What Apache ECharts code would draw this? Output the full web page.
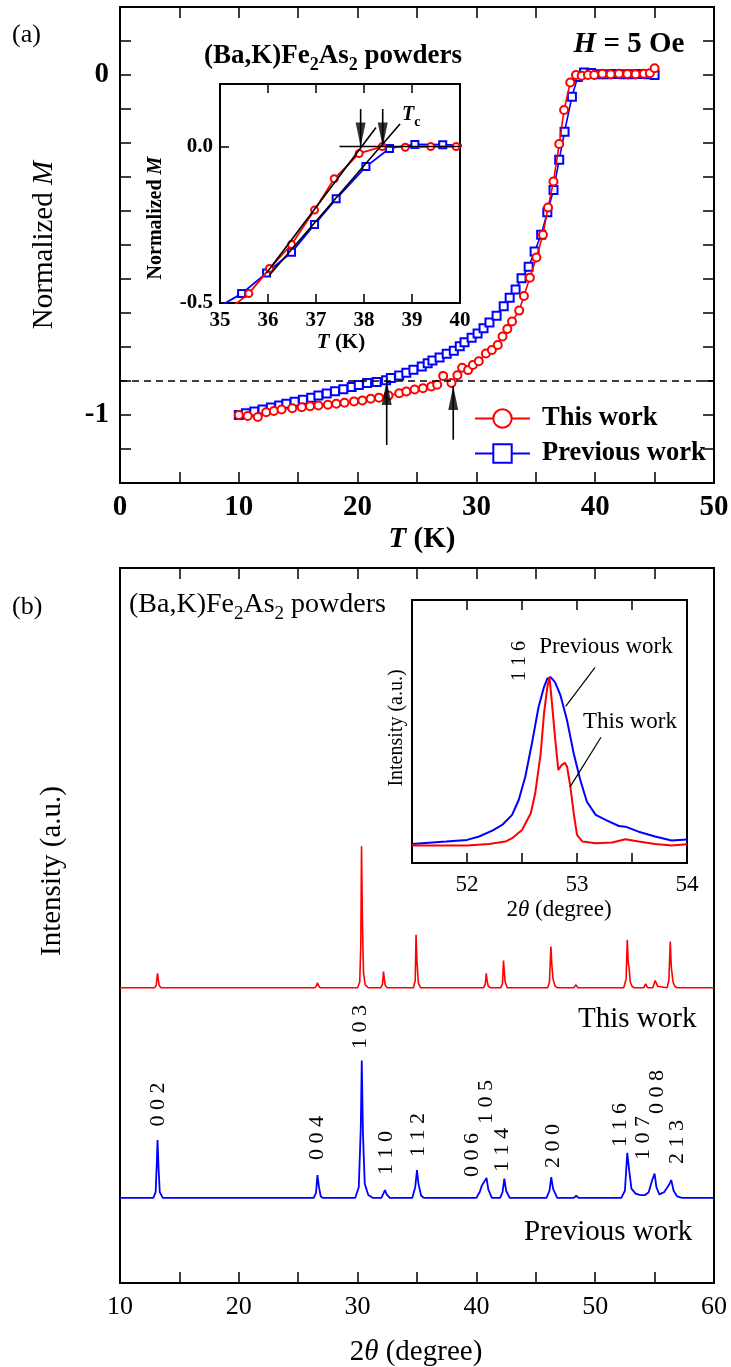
<!DOCTYPE html>
<html><head><meta charset="utf-8">
<script src="https://cdn.jsdelivr.net/npm/echarts@6/dist/echarts.min.js"></script>
<style>html,body{margin:0;padding:0;background:#fff}#c{width:731px;height:1367px}</style>
</head><body><div id="c"></div>
<script>
// ---------------- Panel (a): normalized M vs T ----------------
const redMT = [[10.0,-1.0],[10.75,-1.003],[11.6,-1.006],[12.3,-0.992],[12.95,-0.988],[13.6,-0.984],[14.5,-0.98],[15.3,-0.977],[16.0,-0.974],[16.7,-0.972],[17.5,-0.97],[18.2,-0.967],[18.9,-0.964],[19.7,-0.96],[20.4,-0.957],[21.1,-0.952],[21.8,-0.949],[22.6,-0.943],[23.5,-0.936],[24.1,-0.931],[24.8,-0.925],[25.5,-0.921],[26.2,-0.916],[26.7,-0.911],[27.2,-0.885],[27.9,-0.906],[28.4,-0.883],[28.8,-0.861],[29.3,-0.868],[29.7,-0.853],[30.2,-0.842],[30.8,-0.819],[31.3,-0.809],[31.8,-0.794],[32.2,-0.769],[32.6,-0.747],[33.0,-0.725],[33.6,-0.693],[34.0,-0.65],[34.5,-0.596],[35.05,-0.537],[35.6,-0.47],[36.03,-0.39],[36.49,-0.313],[36.97,-0.203],[37.38,-0.103],[37.9,-0.022],[38.38,0.0],[38.86,-0.002],[39.39,0.0],[39.92,0.0],[40.6,0.004],[41.3,0.002],[42.0,0.004],[42.7,0.003],[43.4,0.002],[44.1,0.004],[44.6,0.005],[45.0,0.02]];
const blueMT = [[10.0,-1.0],[10.6,-0.995],[11.3,-0.99],[12.0,-0.984],[12.7,-0.978],[13.4,-0.972],[14.0,-0.967],[14.7,-0.961],[15.4,-0.955],[16.1,-0.949],[16.7,-0.943],[17.4,-0.937],[18.1,-0.93],[18.8,-0.924],[19.5,-0.918],[20.1,-0.912],[20.8,-0.906],[21.6,-0.903],[22.4,-0.898],[22.8,-0.891],[23.5,-0.884],[24.1,-0.876],[24.7,-0.867],[25.4,-0.857],[25.9,-0.848],[26.3,-0.84],[26.9,-0.831],[27.5,-0.82],[28.1,-0.811],[28.6,-0.798],[29.0,-0.786],[29.6,-0.773],[30.1,-0.76],[30.6,-0.745],[31.1,-0.728],[31.7,-0.708],[32.3,-0.68],[32.8,-0.655],[33.3,-0.631],[33.8,-0.598],[34.4,-0.564],[34.9,-0.519],[35.45,-0.47],[35.97,-0.404],[36.49,-0.338],[36.97,-0.249],[37.42,-0.167],[38.04,-0.064],[38.53,-0.006],[39.06,0.007],[39.64,0.006],[40.3,0.002],[41.0,0.002],[41.7,0.003],[42.4,0.002],[43.1,0.002],[43.8,0.003],[44.5,0.002],[45.0,0.0]];
const tTicks = [0, 10, 20, 30, 40, 50];
const mTickLabels = {'0': '0', '-1': '-1'};
const dashedLevel = -0.9;
// arrows in main panel: [T, tail M, tip M]
const mainArrows = [[22.45, -1.088, -0.9], [28.05, -1.073, -0.915]];
// inset (a): onset construction
const insetFitLines = [[[35.97, -0.404], [38.25, 0.061]], [[36.04, -0.409], [38.75, 0.072]]];
const insetBaseLine = [[37.49, 0.0], [40.0, 0.0]];
const insetArrows = [[37.93, 0.12, 0.0], [38.39, 0.12, 0.0]];
const insetTTicks = [35, 36, 37, 38, 39, 40];
const insetMTicks = ['-0.5', '0.0'];

// ---------------- Panel (b): XRD ----------------
const redXRD = [[10,0],[12.9,0],[13.05,0.3],[13.12,1.4],[13.16,2.0],[13.22,1.2],[13.3,0.3],[13.45,0],
 [26.4,0],[26.55,0.3],[26.62,0.7],[26.7,0.3],[26.85,0],
 [30.0,0],[30.18,0.8],[30.27,6],[30.33,19.8],[30.4,10],[30.45,5.5],[30.5,2],[30.65,0.4],[30.9,0],
 [31.95,0],[32.1,0.5],[32.18,2.25],[32.25,1.2],[32.33,0.3],[32.5,0],
 [34.7,0],[34.85,1],[34.92,7.4],[34.99,4],[35.05,2.3],[35.12,0.6],[35.3,0],
 [40.6,0],[40.75,0.5],[40.83,2.0],[40.9,1.0],[41.0,0.2],[41.2,0],
 [42.05,0],[42.2,0.6],[42.28,3.8],[42.35,2.2],[42.42,0.8],[42.6,0],
 [46.0,0],[46.15,0.8],[46.27,5.75],[46.35,3.2],[46.45,1.2],[46.6,0.3],[46.8,0],
 [48.2,0],[48.38,0.4],[48.55,0],
 [52.4,0],[52.6,1.2],[52.7,6.7],[52.78,3.5],[52.85,2.8],[52.95,0.8],[53.1,0.2],[53.3,0],
 [54.1,0],[54.25,0.55],[54.4,0],
 [54.85,0],[55.05,1.0],[55.25,0.2],
 [56.05,0],[56.2,1],[56.32,6.45],[56.4,3],[56.47,2.8],[56.55,0.8],[56.7,0.2],[56.9,0],
 [60,0]];
const blueXRD = [[10,0],[12.8,0],[13.0,0.8],[13.1,5],[13.16,8.1],[13.25,4],[13.35,0.8],[13.6,0],
 [26.3,0],[26.5,0.7],[26.62,3.2],[26.75,1.5],[26.9,0.2],[27.1,0],
 [29.8,0],[30.1,1.5],[30.27,10],[30.35,19.2],[30.45,9],[30.6,2],[30.9,0.4],[31.3,0],
 [32.0,0],[32.2,0.7],[32.3,1.1],[32.45,0.5],[32.7,0],
 [34.6,0],[34.85,1.5],[35.0,3.9],[35.12,2],[35.35,0.3],[35.6,0],
 [40.0,0],[40.3,0.9],[40.45,1.7],[40.6,1.6],[40.85,2.8],[41.0,1.2],[41.3,0],
 [42.0,0],[42.2,0.8],[42.35,2.7],[42.5,1],[42.8,0],
 [45.9,0],[46.15,1],[46.3,2.9],[46.45,1.3],[46.8,0],
 [48.2,0],[48.4,0.3],[48.6,0],
 [52.2,0],[52.5,1],[52.7,6.3],[52.85,4],[53.05,1.3],[53.4,0.6],[53.8,0.4],[54.2,0.4],[54.5,0.8],[54.8,2.5],[55.0,3.4],[55.15,1.5],[55.4,0.5],[55.8,0.8],[56.2,1.8],[56.4,2.5],[56.6,1],[56.9,0.2],[57.3,0],
 [60,0]];
const redXRDOffset = 41.3;   // vertical stacking of the two patterns (a.u.)
const blueXRDOffset = 11.9;
const peakLabels = ['0 0 2','0 0 4','1 0 3','1 1 0','1 1 2','0 0 6','1 0 5','1 1 4','2 0 0','1 1 6','1 0 7','0 0 8','2 1 3'];
const peakLabelTheta = [13.24, 26.58, 30.20, 32.43, 35.08, 39.69, 40.85, 42.15, 46.45, 52.09, 54.02, 55.20, 56.89];
const peakLabelLevel = [24.97, 20.28, 35.80, 18.18, 20.70, 17.90, 25.31, 18.60, 19.16, 22.10, 20.28, 26.71, 19.72];
const thetaTicks = [10, 20, 30, 40, 50, 60];
// inset (b): 116 peak
const redInset = [[51.5,-0.016],[52.0,-0.016],[52.2,-0.006],[52.35,0.008],[52.41,0.028],[52.5,0.077],[52.58,0.177],[52.62,0.296],[52.67,0.534],[52.7,0.772],[52.73,0.93],[52.75,0.99],[52.77,0.851],[52.8,0.633],[52.83,0.435],[52.86,0.464],[52.89,0.478],[52.91,0.454],[52.94,0.335],[52.97,0.177],[53.0,0.048],[53.05,0.008],[53.17,-0.002],[53.32,0.002],[53.44,0.022],[53.56,0.008],[53.71,-0.006],[53.86,-0.016],[54.0,-0.008]];
const blueInset = [[51.5,-0.006],[51.81,0.008],[52.0,0.018],[52.11,0.038],[52.23,0.073],[52.32,0.107],[52.41,0.167],[52.47,0.256],[52.53,0.395],[52.59,0.593],[52.65,0.81],[52.7,0.93],[52.73,0.98],[52.76,0.99],[52.8,0.96],[52.85,0.88],[52.91,0.73],[52.97,0.534],[53.03,0.375],[53.09,0.246],[53.17,0.167],[53.26,0.137],[53.38,0.101],[53.44,0.097],[53.56,0.067],[53.71,0.038],[53.86,0.014],[54.0,0.02]];
const insetLeaders = [[[53.164, 1.048], [52.897, 0.815]], [[53.218, 0.631], [52.936, 0.333]]];
const insetThetaTicks = [52, 53, 54];

// ---------------- chart ----------------
const F = '"Liberation Serif","Times New Roman",serif';
const K = '#000', RED = '#ff0000', BLUE = '#0000ff';
const chart = echarts.init(document.getElementById('c'), null, {renderer: 'canvas', width: 731, height: 1367});

function gridBox(left, top, width, height, bg) {
  return {left, top, width, height, show: true, borderColor: K, borderWidth: 2,
    backgroundColor: bg, containLabel: false, outerBoundsMode: 'none'};
}
function ax(o) {
  return Object.assign({
    type: 'value', axisLine: {show: false, onZero: false}, splitLine: {show: false},
    axisTick: {show: true, inside: true, length: o.tickLen || 11, lineStyle: {color: K, width: 1.5}},
    axisLabel: {show: false}
  }, o);
}
function lbl(size, bold, margin, fmt) {
  return {show: true, color: K, fontFamily: F, fontSize: size, fontWeight: bold ? 'bold' : 'normal', margin, formatter: fmt};
}
const near = (v, arr) => arr.some(a => Math.abs(v - a) < 1e-6);

const xAxis = [
  ax({gridIndex: 0, min: 0, max: 50, interval: 5, position: 'bottom',
      axisLabel: lbl(29, true, 10, v => near(v, tTicks) ? String(Math.round(v)) : '')}),
  ax({gridIndex: 0, min: 0, max: 50, interval: 5, position: 'top'}),
  ax({gridIndex: 1, min: 35, max: 40, interval: 1, position: 'bottom', tickLen: 9,
      axisLabel: lbl(21, true, 7, v => near(v, insetTTicks) ? String(Math.round(v)) : '')}),
  ax({gridIndex: 1, min: 35, max: 40, interval: 1, position: 'top', tickLen: 9}),
  ax({gridIndex: 2, min: 10, max: 60, interval: 5, position: 'bottom',
      axisLabel: lbl(26, false, 11, v => near(v, thetaTicks) ? String(Math.round(v)) : '')}),
  ax({gridIndex: 2, min: 10, max: 60, interval: 5, position: 'top'}),
  ax({gridIndex: 3, min: 51.5, max: 54, interval: 0.5, position: 'bottom', tickLen: 10,
      axisLabel: lbl(23, false, 10, v => near(v, insetThetaTicks) ? String(Math.round(v)) : '')}),
  ax({gridIndex: 3, min: 51.5, max: 54, interval: 0.5, position: 'top', tickLen: 10})
];
const yAxis = [
  ax({gridIndex: 0, min: -1.2, max: 0.2, interval: 0.1, position: 'left',
      axisLabel: lbl(29, true, 11, v => { const r = String(Math.round(v * 10) / 10); return mTickLabels[r] || ''; })}),
  ax({gridIndex: 0, min: -1.2, max: 0.2, interval: 0.1, position: 'right'}),
  ax({gridIndex: 1, min: -0.5, max: 0.2, interval: 0.5, position: 'left', tickLen: 9,
      axisLabel: lbl(21, true, 7, v => { const s = (Math.round(v * 10) / 10).toFixed(1); return insetMTicks.includes(s) ? s : ''; })}),
  ax({gridIndex: 2, min: 0, max: 100, axisTick: {show: false}}),
  ax({gridIndex: 3, min: -0.12, max: 1.45, axisTick: {show: false}})
];

const series = [];
// main (a)
series.push({type: 'line', name: 'Previous work', xAxisIndex: 0, yAxisIndex: 0, data: blueMT,
  symbol: 'emptyRect', symbolSize: 8, showAllSymbol: true, z: 3,
  lineStyle: {color: BLUE, width: 1.6}, itemStyle: {color: BLUE, borderColor: BLUE, borderWidth: 1}});
series.push({type: 'line', name: 'This work', xAxisIndex: 0, yAxisIndex: 0, data: redMT,
  symbol: 'emptyCircle', symbolSize: 8, showAllSymbol: true, z: 4,
  lineStyle: {color: RED, width: 1.6}, itemStyle: {color: RED, borderColor: RED, borderWidth: 1},
  markLine: {silent: true, symbol: 'none', label: {show: false}, animation: false,
    lineStyle: {color: K, type: [7, 5], width: 1.6}, data: [{yAxis: dashedLevel}]}});
mainArrows.forEach(a => series.push({type: 'line', xAxisIndex: 0, yAxisIndex: 0, data: [[a[0], a[1]], [a[0], a[2]]],
  showSymbol: false, silent: true, z: 5, lineStyle: {color: K, width: 1.6}}));
series.push({type: 'scatter', xAxisIndex: 0, yAxisIndex: 0, data: mainArrows.map(a => [a[0], a[2]]),
  symbol: 'triangle', symbolSize: [10, 24], symbolOffset: [0, '50%'], z: 6, silent: true, itemStyle: {color: K}});
// inset (a)
series.push({type: 'line', name: 'inset-prev', xAxisIndex: 2, yAxisIndex: 2, data: blueMT, clip: true,
  symbol: 'emptyRect', symbolSize: 7, showAllSymbol: true, z: 3,
  lineStyle: {color: BLUE, width: 1.8}, itemStyle: {color: BLUE, borderColor: BLUE, borderWidth: 1}});
series.push({type: 'line', name: 'inset-this', xAxisIndex: 2, yAxisIndex: 2, data: redMT, clip: true,
  symbol: 'emptyCircle', symbolSize: 7, showAllSymbol: true, z: 4,
  lineStyle: {color: RED, width: 1.8}, itemStyle: {color: RED, borderColor: RED, borderWidth: 1}});
insetFitLines.concat([insetBaseLine]).forEach(l => series.push({type: 'line', xAxisIndex: 2, yAxisIndex: 2, data: l,
  showSymbol: false, silent: true, z: 5, lineStyle: {color: K, width: 1.6}}));
insetArrows.forEach(a => series.push({type: 'line', xAxisIndex: 2, yAxisIndex: 2, data: [[a[0], a[1]], [a[0], a[2]]],
  showSymbol: false, silent: true, z: 5, clip: false, lineStyle: {color: K, width: 1.6}}));
series.push({type: 'scatter', xAxisIndex: 2, yAxisIndex: 2, data: insetArrows.map(a => [a[0], a[2]]),
  symbol: 'triangle', symbolRotate: 180, symbolSize: [10, 24], symbolOffset: [0, '-50%'], z: 6, silent: true, itemStyle: {color: K}});
// main (b)
series.push({type: 'line', name: 'xrd-prev', xAxisIndex: 4, yAxisIndex: 3, data: blueXRD.map(p => [p[0], p[1] + blueXRDOffset]),
  showSymbol: false, lineStyle: {color: BLUE, width: 1.8}});
series.push({type: 'line', name: 'xrd-this', xAxisIndex: 4, yAxisIndex: 3, data: redXRD.map(p => [p[0], p[1] + redXRDOffset]),
  showSymbol: false, lineStyle: {color: RED, width: 1.6}});
series.push({type: 'scatter', xAxisIndex: 4, yAxisIndex: 3, symbolSize: 1, itemStyle: {opacity: 0}, silent: true, z: 10,
  data: peakLabels.map((n, i) => ({name: n, value: [peakLabelTheta[i], peakLabelLevel[i]]})),
  label: {show: true, position: 'inside', rotate: 90, formatter: p => p.name, color: '#000', opacity: 1,
    textBorderWidth: 0, fontFamily: F, fontSize: 22}});
// inset (b)
series.push({type: 'line', name: 'inset-xrd-prev', xAxisIndex: 6, yAxisIndex: 4, data: blueInset,
  showSymbol: false, lineStyle: {color: BLUE, width: 2}});
series.push({type: 'line', name: 'inset-xrd-this', xAxisIndex: 6, yAxisIndex: 4, data: redInset,
  showSymbol: false, lineStyle: {color: RED, width: 2}});
insetLeaders.forEach(l => series.push({type: 'line', xAxisIndex: 6, yAxisIndex: 4, data: l,
  showSymbol: false, silent: true, lineStyle: {color: K, width: 1.2}}));

function T(x, y, text, size, opt) {
  opt = opt || {};
  const st = {
    text, fill: K, fontFamily: F, fontSize: size, fontWeight: opt.bold ? 'bold' : 'normal', fontStyle: opt.italic ? 'italic' : 'normal',
    align: opt.align || 'center', verticalAlign: 'middle', textAlign: opt.align || 'center', textVerticalAlign: 'middle'
  };
  if (opt.rich) st.rich = opt.rich;
  return {type: 'text', x, y, rotation: opt.rot || 0, silent: true, z: 100, style: st};
}
function rich(size, bold, lh) {
  const w = bold ? 'bold' : 'normal';
  return {
    n: {fontFamily: F, fontSize: size, fontWeight: w, fill: K, lineHeight: lh},
    i: {fontFamily: F, fontSize: size, fontWeight: w, fontStyle: 'italic', fill: K, lineHeight: lh},
    s: {fontFamily: F, fontSize: Math.round(size * 0.68), fontWeight: w, fill: K, verticalAlign: 'bottom'}
  };
}

const graphic = [
  T(12, 35, '(a)', 26, {align: 'left'}),
  T(12, 607, '(b)', 26, {align: 'left'}),
  T(333, 56, '{n|(Ba,K)Fe}{s|2}{n|As}{s|2}{n| powders}', 27, {bold: true, rich: rich(27, true, 36)}),
  T(629, 45, '{i|H}{n| = 5 Oe}', 29, {bold: true, rich: rich(29, true, 34)}),
  T(44, 245, '{n|Normalized }{i|M}', 29, {rot: Math.PI / 2, rich: rich(29, false, 34)}),
  T(422, 540, '{i|T}{n| (K)}', 29, {bold: true, rich: rich(29, true, 34)}),
  T(156, 218, '{n|Normalized }{i|M}', 20, {bold: true, rot: Math.PI / 2, rich: rich(20, true, 24)}),
  T(341, 343, '{i|T}{n| (K)}', 21, {bold: true, rich: rich(21, true, 26)}),
  T(402, 115, '{i|T}{s|c}', 20, {bold: true, align: 'left', rich: rich(20, true, 28)}),
  T(129, 605, '{n|(Ba,K)Fe}{s|2}{n|As}{s|2}{n| powders}', 28, {align: 'left', rich: rich(28, false, 38)}),
  T(578, 1019, 'This work', 29, {align: 'left'}),
  T(524, 1232, 'Previous work', 29, {align: 'left'}),
  T(52, 871, 'Intensity (a.u.)', 29, {rot: Math.PI / 2}),
  T(416, 1352, '{n|2}{i|θ}{n| (degree)}', 29, {rich: rich(29, false, 34)}),
  T(520, 661, '1 1 6', 20, {rot: Math.PI / 2}),
  T(606, 647, 'Previous work', 23),
  T(630, 722, 'This work', 23),
  T(397, 728, 'Intensity (a.u.)', 20, {rot: Math.PI / 2}),
  T(559, 910, '{n|2}{i|θ}{n| (degree)}', 23, {rich: rich(23, false, 28)})
];

chart.setOption({
  animation: false,
  backgroundColor: '#fff',
  grid: [
    gridBox(120, 7, 594, 476, 'transparent'),
    gridBox(220, 84, 240, 219, '#fff'),
    gridBox(120, 568, 594, 715, 'transparent'),
    gridBox(412, 600, 275, 263, '#fff')
  ],
  xAxis, yAxis, series, graphic,
  legend: {
    left: 469, top: 400, orient: 'vertical', itemWidth: 55, itemHeight: 23, itemGap: 8, selectedMode: false,
    data: ['This work', 'Previous work'],
    textStyle: {color: K, fontFamily: F, fontSize: 26.5, fontWeight: 'bold', lineHeight: 26, padding: [0, 0, 0, 7]}
  }
});
</script></body></html>
